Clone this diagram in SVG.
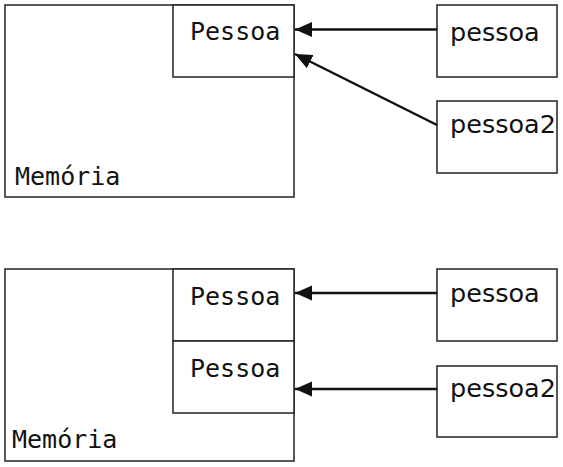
<svg xmlns="http://www.w3.org/2000/svg" width="563" height="467" viewBox="0 0 563 467">
<style>
rect{fill:#fff;stroke:#222;stroke-width:1.5}
.m{font-family:"DejaVu Sans Mono",monospace;font-size:25px;fill:#111}
.s{font-family:"DejaVu Sans",sans-serif;font-size:25.5px;fill:#111}
.c{stroke:#111;stroke-width:2.5;fill:none;marker-end:url(#a)}
</style>
<defs><marker id="a" markerUnits="userSpaceOnUse" markerWidth="18" markerHeight="16" refX="17" refY="8" orient="auto"><path d="M0,0.5L17,8L0,15.5z" fill="#111"/></marker></defs>
<g id="mem1"><rect x="5" y="5" width="289" height="192"/><text class="m" x="15" y="185">Memória</text></g>
<g id="pessoa1"><rect x="173" y="5" width="121" height="72"/><text class="m" x="190" y="40">Pessoa</text></g>
<g id="ref1"><rect x="437" y="5" width="120" height="72"/><text class="s" x="450" y="41">pessoa</text></g>
<g id="ref2"><rect x="437" y="101" width="120" height="72"/><text class="s" x="450" y="133">pessoa2</text></g>
<g id="mem2"><rect x="5" y="269" width="289" height="192"/><text class="m" x="12" y="448">Memória</text></g>
<g id="pessoa2a"><rect x="173" y="269" width="121" height="72"/><text class="m" x="190" y="305">Pessoa</text></g>
<g id="pessoa2b"><rect x="173" y="341" width="121" height="72"/><text class="m" x="190" y="377">Pessoa</text></g>
<g id="ref3"><rect x="437" y="269" width="120" height="72"/><text class="s" x="450" y="302">pessoa</text></g>
<g id="ref4"><rect x="437" y="366" width="120" height="71"/><text class="s" x="450" y="397">pessoa2</text></g>
<g id="connectors">
<line class="c" x1="437" y1="29.5" x2="295" y2="29.5"/>
<line class="c" x1="437" y1="125" x2="295" y2="54"/>
<line class="c" x1="437" y1="293" x2="295" y2="293"/>
<line class="c" x1="437" y1="389" x2="295" y2="389"/>
</g>
</svg>
